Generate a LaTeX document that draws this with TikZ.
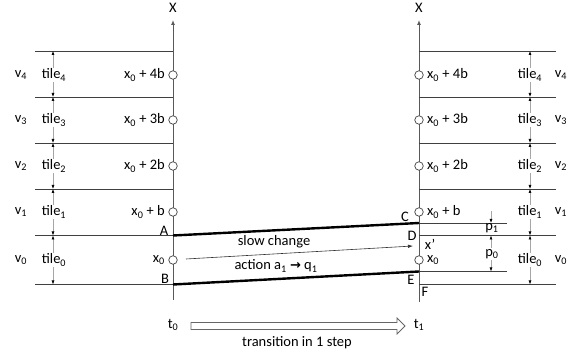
\documentclass[tikz,border=0pt]{standalone}
\usepackage{fontspec}
\setmainfont{Carlito}
\newfontfamily\dejavu{DejaVu Sans}
\usetikzlibrary{arrows.meta}
\newcommand\sbs[1]{\textsubscript{#1}}
\begin{document}
\begin{tikzpicture}[x=1pt,y=-1pt,font=\fontsize{14.5}{17}\selectfont,
  hl/.style={draw=black!75,line width=0.8pt},
  ax/.style={draw=black!65,line width=1pt,-{Latex[length=5pt,width=4pt]}},
  slab/.style={draw=black,line width=2.4pt},
  dimline/.style={draw=black!35,line width=0.6pt,{Latex[length=4pt,width=3pt,color=black]}-{Latex[length=4pt,width=3pt,color=black]}},
  onearrow/.style={draw=black!35,line width=0.6pt,-{Latex[length=4pt,width=3pt,color=black]}},
  pt/.style={circle,draw=black!75,fill=white,minimum size=8.5pt,inner sep=0pt,line width=0.7pt},
  lbl/.style={inner sep=1pt},
  tl/.style={inner sep=1pt,fill=white}]
\useasboundingbox (0,0) rectangle (579,355);

% axes
\coordinate (Lbot) at (173,300); \coordinate (Ltop) at (173,20);
\coordinate (Rbot) at (419,302); \coordinate (Rtop) at (419,20);
\draw[ax] (Lbot) -- (Ltop);
\draw[ax] (Rbot) -- (Rtop);
\node[lbl] (LX) at (173,8) {X};
\node[lbl] (RX) at (419,8) {X};

% horizontal lines
\foreach \i/\y in {0/284.5,1/235.5,2/189,3/143,4/97,5/51}{
  \coordinate (la\i) at (35,\y); \coordinate (lb\i) at (173,\y);
  \coordinate (ra\i) at (419,\y); \coordinate (rb\i) at (556,\y);
  \draw[hl] (la\i) -- (lb\i);
  \draw[hl] (ra\i) -- (rb\i);
  \coordinate (ld\i) at (53,\y); \coordinate (rd\i) at (530,\y);
}
% short lines right
\coordinate (Cs) at (419,223); \coordinate (Ce) at (507,223);
\coordinate (Es) at (419,271.5); \coordinate (Ee) at (507,271.5);
\draw[hl] (Cs) -- (Ce);
\draw[hl] (Es) -- (Ee);

% dimension arrows tiles
\foreach \i/\j in {0/1,1/2,2/3,3/4,4/5}{
  \draw[dimline] (ld\i) -- (ld\j);
  \draw[dimline] (rd\i) -- (rd\j);
}

% tile labels & values
\foreach \i/\y/\t in {0/260/x\sbs{0},1/212/x\sbs{0} + b,2/166/x\sbs{0} + 2b,3/120/x\sbs{0} + 3b,4/75/x\sbs{0} + 4b}{
  \node[lbl] (lv\i) at (21,\y) {v\sbs{\i}};
  \node[tl] (lt\i) at (54,\y) {tile\sbs{\i}};
  \node[tl] (rt\i) at (530,\y) {tile\sbs{\i}};
  \node[lbl] (rv\i) at (561,\y) {v\sbs{\i}};
  \node[pt] (lc\i) at (173,\y) {};
  \node[pt] (rc\i) at (419,\y) {};
  \node[lbl,anchor=east] (lx\i) at (166,\y) {\t};
  \node[lbl,anchor=west] (rx\i) at (426,\y) {\t};
}

% thick slabs
\coordinate (A) at (173,235.5); \coordinate (C) at (419,223);
\coordinate (B) at (173,284.5); \coordinate (E) at (419,271.5);
\draw[slab] (A) -- (C);
\draw[slab] (B) -- (E);
\node[lbl] (Alab) at (164,231) {A};
\node[lbl] (Blab) at (165,279) {B};
\node[lbl] (Clab) at (405,217) {C};
\node[lbl] (Dlab) at (412,236) {D};
\node[lbl] (Elab) at (411,280) {E};
\node[lbl] (Flab) at (425,292) {F};

% action arrow
\coordinate (act0) at (186,259); \coordinate (act1) at (413,246);
\draw[black!80,line width=0.6pt,-{Latex[length=5pt,width=3.5pt]}] (act0) -- (act1);
\node[lbl,inner sep=0pt] (xp) at (430,244) {x’};
\node[lbl] (slow) at (274,242) {slow change};
\node[lbl] (action) at (276,266) {action a\sbs{1} {\dejavu\bfseries\fontsize{13}{14}\selectfont →} q\sbs{1}};

% p dimensions
\coordinate (p1a) at (491,211); \coordinate (p1b) at (491,223);
\coordinate (p0a) at (491,235.5); \coordinate (p0b) at (491,271.5);
\draw[onearrow] (p1a) -- (p1b);
\draw[dimline] (p0a) -- (p0b);
\node[lbl] (p1) at (492,228) {p\sbs{1}};
\node[tl] (p0) at (492,254) {p\sbs{0}};

% time
\node[lbl] (t0) at (173,325) {t\sbs{0}};
\node[lbl] (t1) at (419,325) {t\sbs{1}};
\draw[black!60,line width=0.8pt] (191,322.5) -- (397,322.5) -- (397,318) -- (405,326) -- (397,334) -- (397,329.5) -- (191,329.5) -- cycle;
\node[lbl] (trans) at (297,343) {transition in 1 step};
\end{tikzpicture}
\end{document}
